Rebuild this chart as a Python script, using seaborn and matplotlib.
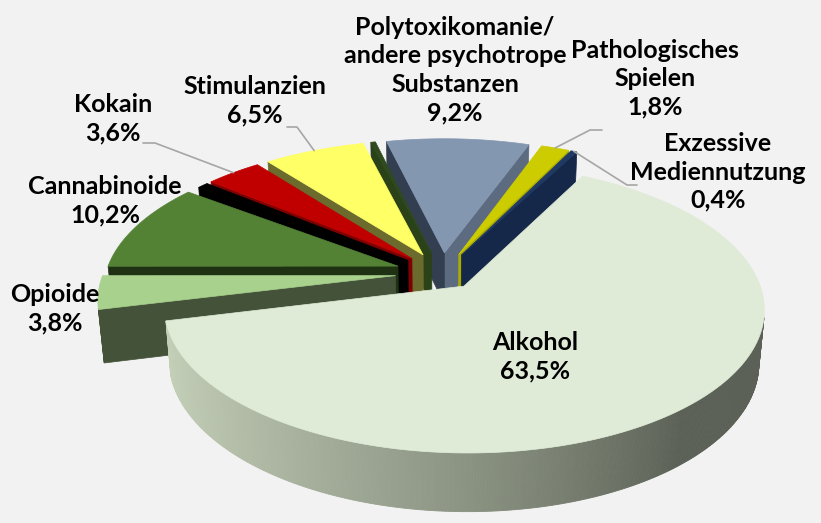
import numpy as np
import matplotlib.pyplot as plt
import seaborn as sns
from matplotlib.patches import Polygon
from matplotlib.colors import to_rgb

# data (Anteile in %, Reihenfolge im Uhrzeigersinn ab Startwinkel)
categories = ['Alkohol', 'Opioide', 'Cannabinoide', 'Sedativa/Hypnotika', 'Kokain',
              'Stimulanzien', 'Halluzinogene',
              'Polytoxikomanie/\nandere psychotrope\nSubstanzen',
              'Pathologisches\nSpielen', 'Exzessive\nMediennutzung']
shares = [63.5, 3.8, 10.2, 0.7, 3.6, 6.5, 0.3, 9.2, 1.8, 0.4]
show_label = [True, True, True, False, True, True, False, True, True, True]

top_colors = ['#DFEBD7', '#A9D18E', '#548235', '#000000', '#C00000',
              '#FFFF66', '#2E4A1E', '#8497B0', '#CCCC00', '#1F3864']
side_colors = ['#A9B49F', '#435238', '#1F3113', '#000000', '#7F0000',
               '#6B6B2D', '#2B4218', '#333F50', '#8A8A00', '#0B1830']
explode = [0.12, 0.16, 0.16, 0.15, 0.15, 0.15, 0.15, 0.15, 0.15, 0.15]

# label layout (pixel positions of text centre, leader elbow or None)
label_pos = [(535, 357), (55, 309), (105, 201), None, (113, 119),
             (255, 101), None, (455, 70), (655, 79), (718, 172)]
leader_elbow = [None, None, None, None, [(143, 143), (155, 143)],
                [(287, 127), (297, 127)], None, None,
                [(602, 130), (590, 130)], [(637, 185), (627, 185)]]

# 3d view
start_angle = 62.3
phi = np.radians(28.0)
D = 5.82
F = 1700
H = 0.205
x0, y0 = 442, 273
cp, sp = np.cos(phi), np.sin(phi)
cam = np.array([0.0, -D * cp, D * sp])


def proj(X, Y, Z):
    depth = D + Y * cp - Z * sp
    up = Y * sp + Z * cp
    return x0 + F * X / depth, y0 - F * up / depth


def visible(point, normal):
    return np.dot(np.asarray(point) - cam, normal) < 0


def mix(c1, c2, t):
    a, b = np.array(to_rgb(c1)), np.array(to_rgb(c2))
    return tuple(a + (b - a) * t)


sns.set_theme(style='white')
plt.rcParams['font.family'] = ['Lato', 'DejaVu Sans']

fig = plt.figure(figsize=(8.21, 5.23), dpi=100)
fig.patch.set_facecolor('#F2F2F2')
ax = fig.add_axes([0, 0, 1, 1])
ax.set_facecolor('#F2F2F2')
ax.set_xlim(0, 821)
ax.set_ylim(523, 0)
ax.axis('off')

cum = np.concatenate([[0], np.cumsum(shares)])
slices = []
for i, s in enumerate(shares):
    hi = start_angle - 360 * cum[i] / 100
    lo = hi - 360 * s / 100
    mid = np.radians((hi + lo) / 2)
    ex, ey = explode[i] * np.cos(mid), explode[i] * np.sin(mid)
    slices.append((i, lo, hi, ex, ey, mid))

# back to front
order = sorted(slices, key=lambda t: -(t[4] + 0.5 * np.sin(t[5])))

for i, lo, hi, ex, ey, mid in order:
    n = max(int(abs(hi - lo) * 2), 4)
    th = np.radians(np.linspace(lo, hi, n))
    Xr, Yr = ex + np.cos(th), ey + np.sin(th)
    tx, ty = proj(Xr, Yr, 0)
    bx, by = proj(Xr, Yr, -H)
    cx_t, cy_t = proj(ex, ey, 0)
    cx_b, cy_b = proj(ex, ey, -H)

    # radial cut faces
    for a, nang, is_lo in [(lo, lo - 90, True), (hi, hi + 90, False)]:
        ar, nr = np.radians(a), np.radians(nang)
        normal = np.array([np.cos(nr), np.sin(nr), 0])
        m = [ex + 0.5 * np.cos(ar), ey + 0.5 * np.sin(ar), -H / 2]
        if not visible(m, normal):
            continue
        rx_t, ry_t = proj(ex + np.cos(ar), ey + np.sin(ar), 0)
        rx_b, ry_b = proj(ex + np.cos(ar), ey + np.sin(ar), -H)
        col = mix(side_colors[i], top_colors[i], 0.5) if is_lo else side_colors[i]
        ax.add_patch(Polygon([(cx_t, cy_t), (rx_t, ry_t), (rx_b, ry_b), (cx_b, cy_b)],
                             closed=True, facecolor=col, edgecolor=col, lw=0.5))

    # outer wall, segment by segment
    for k in range(n - 1):
        tm = (th[k] + th[k + 1]) / 2
        p = [ex + np.cos(tm), ey + np.sin(tm), -H / 2]
        if not visible(p, np.array([np.cos(tm), np.sin(tm), 0])):
            continue
        if i == 0:
            # shading of the big slice from light (left) to dark (right)
            deg = np.degrees(tm) % 360
            t = np.clip((deg - 195) / 115, 0, 1)
            col = mix('#C4CFB8', '#5B6156', t ** 1.4)
        else:
            col = side_colors[i]
        ax.add_patch(Polygon([(tx[k], ty[k]), (tx[k + 1], ty[k + 1]),
                              (bx[k + 1], by[k + 1]), (bx[k], by[k])],
                             closed=True, facecolor=col, edgecolor=col, lw=0.6))

    # top face
    pts = [(cx_t, cy_t)] + list(zip(tx, ty))
    ax.add_patch(Polygon(pts, closed=True, facecolor=top_colors[i],
                         edgecolor=top_colors[i], lw=0.5))

# labels
for i in range(len(shares)):
    if not show_label[i]:
        continue
    txt = f"{categories[i]}\n{shares[i]:.1f}%".replace('.', ',')
    lx, ly = label_pos[i]
    ax.text(lx, ly, txt, ha='center', va='center', fontsize=18,
            fontweight='bold', color='black', linespacing=1.28, zorder=10)
    if leader_elbow[i] is not None:
        _, lo_, hi_, ex, ey, mid = slices[i]
        ax_, ay_ = proj(ex + np.cos(mid), ey + np.sin(mid), 0)
        xs = [p[0] for p in leader_elbow[i]] + [ax_]
        ys = [p[1] for p in leader_elbow[i]] + [ay_]
        ax.plot(xs, ys, color='#A6A6A6', lw=1.2, zorder=9)

fig.savefig('out.png', dpi=100, facecolor=fig.get_facecolor())
